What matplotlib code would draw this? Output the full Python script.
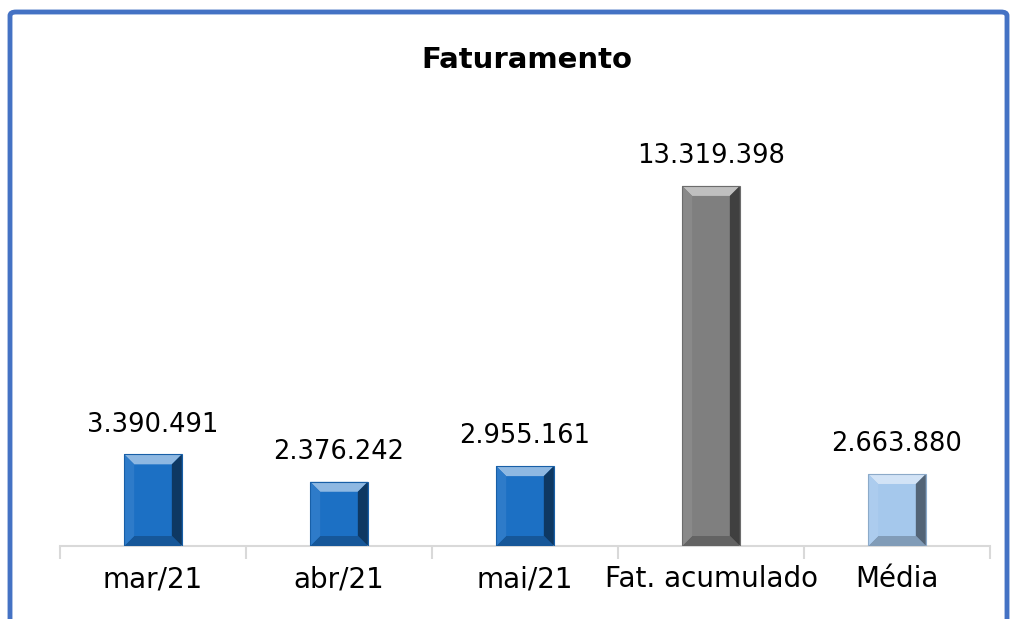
import numpy as np
import matplotlib.pyplot as plt
import matplotlib.colors as mc
from matplotlib.patches import Polygon, FancyBboxPatch

categorias = ['mar/21', 'abr/21', 'mai/21', 'Fat. acumulado', 'Média']
valores = [3390491, 2376242, 2955161, 13319398, 2663880]
rotulos = ['3.390.491', '2.376.242', '2.955.161', '13.319.398', '2.663.880']
cores = ['#1C70C4', '#1C70C4', '#1C70C4', '#7F7F7F', '#A5C8EC']

plt.rcParams['font.family'] = ['DejaVu Sans']

fig = plt.figure(figsize=(10.11, 6.19), dpi=100)
W, H = 1011, 619

# moldura azul
moldura = FancyBboxPatch((10 / W, -0.2), (1007 - 10) / W, (H - 12) / H + 0.2,
                         boxstyle='round,pad=0,rounding_size=0.006',
                         transform=fig.transFigure, fill=False,
                         edgecolor='#4472C4', linewidth=3.5)
fig.patches.append(moldura)

ax = fig.add_axes([60 / W, 73 / H, (990 - 60) / W, (546 - 154) / H])
x = np.arange(len(categorias))
barras = ax.bar(x, valores, width=0.31, color=cores, zorder=2)

ax.set_xlim(-0.5, len(categorias) - 0.5)
ax.set_ylim(0, 14.5e6)


def escurecer(c, f):
    r, g, b = mc.to_rgb(c)
    return (r * f, g * f, b * f)


def clarear(c, f):
    r, g, b = mc.to_rgb(c)
    return (r + (1 - r) * f, g + (1 - g) * f, b + (1 - b) * f)


# efeito chanfrado nas barras
fig.canvas.draw()
inv = ax.transData.inverted()
bev = 10
for b, c in zip(barras, cores):
    (x0, y0), (x1, y1) = ax.transData.transform([(b.get_x(), 0), (b.get_x() + b.get_width(), b.get_height())])
    faces = [
        ([(x0, y1), (x1, y1), (x1 - bev, y1 - bev), (x0 + bev, y1 - bev)], clarear(c, 0.5)),
        ([(x1, y1), (x1, y0), (x1 - bev, y0 + bev), (x1 - bev, y1 - bev)], escurecer(c, 0.5)),
        ([(x0, y0), (x1, y0), (x1 - bev, y0 + bev), (x0 + bev, y0 + bev)], escurecer(c, 0.78)),
        ([(x0, y1), (x0, y0), (x0 + bev, y0 + bev), (x0 + bev, y1 - bev)], clarear(c, 0.08)),
    ]
    for pts, fc in faces:
        ax.add_patch(Polygon(inv.transform(pts), closed=True, facecolor=fc, edgecolor='none', zorder=3))
    ax.add_patch(Polygon(inv.transform([(x0, y0), (x0, y1), (x1, y1), (x1, y0)]), closed=True,
                         fill=False, edgecolor=escurecer(c, 0.85), linewidth=0.8, zorder=4))

for xi, v, r in zip(x, valores, rotulos):
    ax.annotate(r, (xi, v), xytext=(0, 12), textcoords='offset points',
                ha='center', va='bottom', fontsize=18.5, color='#000000')

for s in ['top', 'right', 'left']:
    ax.spines[s].set_visible(False)
ax.spines['bottom'].set_color('#D9D9D9')
ax.spines['bottom'].set_linewidth(1.5)
ax.set_yticks([])
ax.set_xticks(x)
ax.set_xticklabels(categorias, fontsize=20)
ax.tick_params(axis='x', which='major', length=0, pad=14)
ax.set_xticks(np.arange(-0.5, len(categorias)), minor=True)
ax.tick_params(axis='x', which='minor', length=9, color='#D9D9D9', width=1.5)

fig.text(527 / W, 1 - 60 / H, 'Faturamento', ha='center', va='center', fontsize=21, fontweight='bold')

plt.savefig('out.png', dpi=100)
